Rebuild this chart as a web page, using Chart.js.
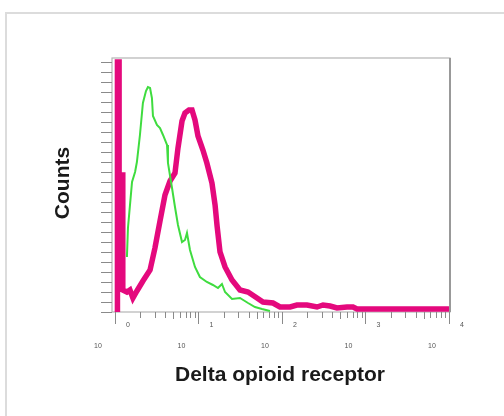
<!DOCTYPE html>
<html>
<head>
<meta charset="utf-8">
<script src="https://cdn.jsdelivr.net/npm/chart.js@4/dist/chart.umd.min.js"></script>
<style>
  html, body { margin: 0; padding: 0; background: #ffffff; }
  #wrap { position: relative; width: 504px; height: 416px; overflow: hidden; }
  canvas { display: block; }
</style>
</head>
<body>
<div id="wrap"><canvas id="c" width="504" height="416"></canvas></div>
<script>
// ---- Data (fluorescence intensity, counts) ----
const isotypeX = [1.39, 1.43, 1.60, 1.74, 1.83, 1.99, 2.16, 2.35, 2.48, 2.63, 2.77, 2.85, 3.18, 3.46, 3.76, 4.20, 4.31, 4.82, 5.23, 5.68, 6.35, 6.89, 7.28, 7.91, 9.08, 10.4, 12.6, 14.9, 17.1, 19.1, 20.8, 25.2, 31.4, 39.2, 47.5, 57.6, 71.8];
const isotypeY = [55, 84, 130, 140, 150, 177, 209, 221, 225, 224, 214, 196, 187, 184, 177, 167, 149, 124, 105, 87, 70, 72, 79, 62, 45, 35, 30, 27, 24, 28, 20, 13, 14, 9, 5, 3, 1];

const dorX = [1.07, 1.07, 1.12, 1.12, 1.24, 1.24, 1.39, 1.51, 1.64, 1.83, 2.16, 2.63, 3.01, 3.46, 3.97, 4.56, 5.23, 5.68, 6.35, 6.89, 7.69, 8.36, 9.08, 9.86, 11.3, 12.6, 14.5, 15.8, 16.7, 18.1, 20.8, 25.2, 31.4, 39.2, 50.2, 59.2, 78.0, 94.6, 125, 151, 199, 263, 310, 376, 456, 600, 709, 791, 2590, 10000];
const dorY = [0, 250, 250, 137, 137, 22, 20, 22, 14, 21, 31, 42, 64, 91, 117, 131, 139, 164, 191, 199, 202, 202, 192, 176, 162, 149, 129, 107, 86, 60, 45, 32, 22, 20, 14, 10, 9, 5, 5, 7, 7, 5, 7, 6, 4, 5, 5, 3, 3, 3];

const decadeExponents = [0, 1, 2, 3, 4];
const minorMultipliers = [2, 3, 4, 5, 6, 7, 8, 9];
const countTicks = [0, 10, 20, 30, 40, 50, 60, 70, 80, 90, 100, 110, 120, 130, 140, 150, 160, 170, 180, 190, 200, 210, 220, 230, 240, 250];
const xTitle = 'Delta opioid receptor';
const yTitle = 'Counts';

const toPoints = (xs, ys) => xs.map((x, i) => ({ x: x, y: ys[i] }));

const decorPlugin = {
  id: 'decor',
  beforeDraw(chart) {
    const ctx = chart.ctx;
    ctx.save();
    ctx.fillStyle = '#ffffff';
    ctx.fillRect(0, 0, chart.width, chart.height);
    // outer light frame
    ctx.strokeStyle = '#dcdcdc';
    ctx.lineWidth = 2;
    ctx.beginPath();
    ctx.moveTo(6, chart.height);
    ctx.lineTo(6, 13);
    ctx.lineTo(chart.width, 13);
    ctx.stroke();
    ctx.restore();
  },
  beforeDatasetsDraw(chart) {
    const ctx = chart.ctx;
    const a = chart.chartArea;
    const xs = chart.scales.x, ys = chart.scales.y;
    ctx.save();
    // plot frame
    ctx.strokeStyle = '#b4b4b4';
    ctx.lineWidth = 1.2;
    ctx.strokeRect(a.left, a.top, a.right - a.left, a.bottom - a.top);
    ctx.strokeStyle = '#999999';
    ctx.lineWidth = 2;
    ctx.beginPath();
    ctx.moveTo(a.right, a.top);
    ctx.lineTo(a.right, a.bottom);
    ctx.stroke();
    // y ticks
    ctx.strokeStyle = '#8a8a8a';
    ctx.lineWidth = 1;
    countTicks.forEach(v => {
      const y = Math.round(ys.getPixelForValue(v)) + 0.5;
      ctx.beginPath();
      ctx.moveTo(a.left - 11, y);
      ctx.lineTo(a.left, y);
      ctx.stroke();
    });
    // x ticks (log decades + minors)
    decadeExponents.forEach(k => {
      const base = Math.pow(10, k);
      const px = Math.round(xs.getPixelForValue(base)) + 0.5;
      ctx.beginPath();
      ctx.moveTo(px, a.bottom);
      ctx.lineTo(px, a.bottom + 12);
      ctx.stroke();
      if (k < 4) {
        minorMultipliers.forEach(m => {
          const mx = Math.round(xs.getPixelForValue(m * base)) + 0.5;
          ctx.beginPath();
          ctx.moveTo(mx, a.bottom);
          ctx.lineTo(mx, a.bottom + (m === 5 ? 7 : 6));
          ctx.stroke();
        });
      }
    });
    ctx.restore();
  },
  afterDraw(chart) {
    const ctx = chart.ctx;
    const a = chart.chartArea;
    const xs = chart.scales.x;
    ctx.save();
    ctx.fillStyle = '#555555';
    ctx.textAlign = 'center';
    ctx.textBaseline = 'middle';
    ctx.font = '7px "Liberation Sans", Arial, sans-serif';
    decadeExponents.forEach(k => {
      const px = xs.getPixelForValue(Math.pow(10, k));
      ctx.fillText('10', px - 17, a.bottom + 34);
      ctx.fillText(String(k), px + 13, a.bottom + 13);
    });
    // axis titles
    ctx.fillStyle = '#1a1a1a';
    ctx.font = 'bold 21px "Liberation Sans", Arial, sans-serif';
    ctx.fillText(xTitle, 280, 375);
    ctx.translate(63, 183);
    ctx.rotate(-Math.PI / 2);
    ctx.fillText(yTitle, 0, 0);
    ctx.restore();
  }
};

new Chart(document.getElementById('c'), {
  type: 'line',
  data: {
    datasets: [
      {
        label: 'Isotype control',
        data: toPoints(isotypeX, isotypeY),
        borderColor: '#3fdc3f',
        borderWidth: 2,
        pointRadius: 0,
        tension: 0,
        fill: false
      },
      {
        label: 'Delta opioid receptor',
        data: toPoints(dorX, dorY),
        borderColor: '#e4097d',
        borderWidth: 5.5,
        pointRadius: 0,
        tension: 0,
        fill: false,
        borderJoinStyle: 'miter'
      }
    ]
  },
  options: {
    responsive: false,
    animation: false,
    layout: { padding: { left: 112, top: 58, right: 54, bottom: 104 } },
    plugins: { legend: { display: false }, tooltip: { enabled: false } },
    scales: {
      x: {
        type: 'logarithmic',
        display: false,
        min: 0.921,
        max: 10280
      },
      y: {
        type: 'linear',
        display: false,
        min: 0,
        max: 254
      }
    }
  },
  plugins: [decorPlugin]
});
</script>
</body>
</html>
